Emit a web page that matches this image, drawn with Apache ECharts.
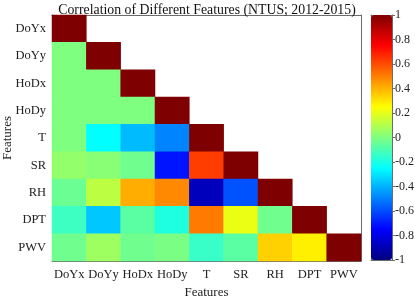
<!DOCTYPE html>
<html><head><meta charset="utf-8">
<script src="https://cdn.jsdelivr.net/npm/echarts@6/dist/echarts.min.js"></script>
<style>html,body{margin:0;padding:0;background:#fff}#c{width:415px;height:296px}</style>
</head><body><div id="c"></div>
<script>
const features = ['DoYx','DoYy','HoDx','HoDy','T','SR','RH','DPT','PWV'];
const rowDoYx = [1];
const rowDoYy = [0.0, 1];
const rowHoDx = [0.0, 0.0, 1];
const rowHoDy = [0.0, 0.0, 0.0, 1];
const rowT    = [0.0, -0.25, -0.38, -0.49, 1];
const rowSR   = [0.04, 0.02, -0.03, -0.71, 0.63, 1];
const rowRH   = [-0.04, 0.12, 0.41, 0.48, -0.88, -0.59, 1];
const rowDPT  = [-0.13, -0.36, -0.07, -0.19, 0.51, 0.21, -0.03, 1];
const rowPWV  = [-0.03, 0.06, -0.03, -0.01, -0.14, -0.07, 0.34, 0.28, 1];
const rows = [rowDoYx,rowDoYy,rowHoDx,rowHoDy,rowT,rowSR,rowRH,rowDPT,rowPWV];
const colorbarTicks = ['-1','-0.8','-0.6','-0.4','-0.2','0','0.2','0.4','0.6','0.8','1'];

const data = [];
rows.forEach((r, i) => r.forEach((v, j) => data.push([j, i, v])));

const jet = ['#00007F','#0000FF','#007FFF','#00FFFF','#7FFF7F','#FFFF00','#FF7F00','#FF0000','#7F0000'];
const font = 'Liberation Serif';
const axisColor = '#6b6b6b';
const txt = '#222';

const chart = echarts.init(document.getElementById('c'), null, {renderer:'canvas'});
chart.setOption({
  animation: false,
  backgroundColor: '#fff',
  title: {
    text: 'Correlation of Different Features (NTUS; 2012-2015)',
    left: 202, textAlign: 'center', top: -2,
    textStyle: {fontFamily: font, fontSize: 13.8, fontWeight: 'normal', color: '#111'}
  },
  grid: [
    {left: 52, top: 15, width: 309, height: 246, show: false, outerBoundsMode: 'none', containLabel: false},
    {left: 371, top: 15, width: 21, height: 245, show: false, outerBoundsMode: 'none', containLabel: false}
  ],
  xAxis: [
    {type: 'category', data: features, gridIndex: 0, position: 'bottom',
     name: 'Features', nameLocation: 'middle', nameGap: 23,
     nameTextStyle: {fontFamily: font, fontSize: 13, color: txt},
     axisLine: {lineStyle: {color: axisColor}},
     axisTick: {inside: true, alignWithLabel: true, length: 3, lineStyle: {color: axisColor}},
     axisLabel: {fontFamily: font, fontSize: 12.5, color: txt, margin: 7, interval: 0},
     splitLine: {show: false}},
    {type: 'category', data: features, gridIndex: 0, position: 'top',
     axisLine: {lineStyle: {color: axisColor}},
     axisTick: {inside: true, alignWithLabel: true, length: 3, lineStyle: {color: axisColor}},
     axisLabel: {show: false}},
    {type: 'value', gridIndex: 1, min: 0, max: 1, show: true,
     axisLine: {show: true, onZero: false, lineStyle: {color: axisColor}}, axisTick: {show: false}, axisLabel: {show: false}, splitLine: {show: false}},
    {type: 'value', gridIndex: 1, min: 0, max: 1, position: 'top', show: true,
     axisLine: {show: true, onZero: false, lineStyle: {color: axisColor}}, axisTick: {show: false}, axisLabel: {show: false}, splitLine: {show: false}}
  ],
  yAxis: [
    {type: 'category', data: features, gridIndex: 0, inverse: true, position: 'left',
     name: 'Features', nameLocation: 'middle', nameGap: 38, nameRotate: 90,
     nameMoveOverlap: false,
     nameTextStyle: {fontFamily: font, fontSize: 13, color: txt},
     axisLine: {lineStyle: {color: axisColor}},
     axisTick: {inside: true, alignWithLabel: true, length: 3, lineStyle: {color: axisColor}},
     axisLabel: {fontFamily: font, fontSize: 12.5, color: txt, margin: 6, interval: 0},
     splitLine: {show: false}},
    {type: 'category', data: features, gridIndex: 0, inverse: true, position: 'right',
     axisLine: {lineStyle: {color: axisColor}},
     axisTick: {inside: true, alignWithLabel: true, length: 3, lineStyle: {color: axisColor}},
     axisLabel: {show: false}},
    {type: 'value', gridIndex: 1, min: -1, max: 1, interval: 0.2, position: 'right',
     axisLine: {show: true, onZero: false, lineStyle: {color: axisColor}},
     axisTick: {inside: false, length: 3, lineStyle: {color: axisColor}},
     axisLabel: {fontFamily: font, fontSize: 12, color: txt, margin: 3,
       formatter: v => colorbarTicks[Math.round((v + 1) / 0.2)]},
     splitLine: {show: false}},
    {type: 'value', gridIndex: 1, min: -1, max: 1, position: 'left',
     axisLine: {show: true, onZero: false, lineStyle: {color: axisColor}},
     axisTick: {show: false}, axisLabel: {show: false}, splitLine: {show: false}}
  ],
  visualMap: {
    type: 'continuous', min: -1, max: 1, show: true, calculable: false,
    seriesIndex: 0, left: 371, top: 15, itemWidth: 21, itemHeight: 245,
    padding: 0, text: null, showLabel: false, hoverLink: false,
    inRange: {color: jet}, z: 1
  },
  series: [{
    type: 'heatmap', xAxisIndex: 0, yAxisIndex: 0, data: data,
    itemStyle: {borderWidth: 0}, emphasis: {disabled: true}, progressive: 0
  }]
});
</script></body></html>
